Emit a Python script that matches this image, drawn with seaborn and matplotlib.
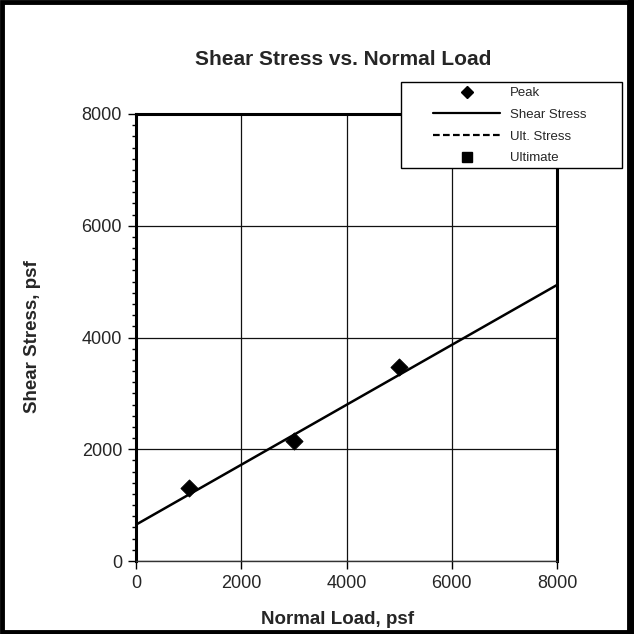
import matplotlib
matplotlib.use("Agg")
import matplotlib.pyplot as plt
import seaborn as sns
import pandas as pd
from matplotlib.ticker import MultipleLocator
from matplotlib.patches import Rectangle
from matplotlib.lines import Line2D

# Data
peak_load = [1000, 3000, 5000]
peak_stress = [1300, 2150, 3470]
fit_load = [0, 8000]
fit_stress = [650, 4940]
x_ticks = [0, 2000, 4000, 6000, 8000]
y_ticks = [0, 2000, 4000, 6000, 8000]
legend_labels = ["Peak", "Shear Stress", "Ult. Stress", "Ultimate"]

sns.set_style("white")
plt.rcParams['font.family'] = ['Liberation Sans', 'DejaVu Sans']

W = 634.0
fig = plt.figure(figsize=(6.34, 6.34), dpi=100)
ax = fig.add_axes([136/W, 73/W, 421/W, 447/W])

peak_df = pd.DataFrame({"load": peak_load, "stress": peak_stress})
fit_df = pd.DataFrame({"load": fit_load, "stress": fit_stress})

sns.lineplot(data=fit_df, x="load", y="stress", ax=ax, color="black", lw=1.8,
             zorder=3, legend=False)
sns.scatterplot(data=peak_df, x="load", y="stress", ax=ax, marker="D", s=75,
                color="black", edgecolor="black", zorder=4, legend=False)

ax.set_xlim(0, 8000)
ax.set_ylim(0, 8000)
ax.set_xticks(x_ticks)
ax.set_yticks(y_ticks)
ax.yaxis.set_minor_locator(MultipleLocator(200))
ax.tick_params(axis="both", which="major", direction="out", length=6, width=1,
               labelsize=13, color="black", left=True, bottom=True, pad=4)
ax.tick_params(axis="y", which="minor", direction="out", length=3, width=1,
               color="black", left=True)
ax.grid(True, which="major", color="#111111", lw=0.9)
for s in ["left", "right", "top"]:
    ax.spines[s].set_color("black")
    ax.spines[s].set_linewidth(2.2)
ax.spines["bottom"].set_color("#333333")
ax.spines["bottom"].set_linewidth(1)

ax.set_xlabel("Normal Load, psf", fontsize=13.5, fontweight="bold", va="center")
ax.xaxis.set_label_coords((338 - 136) / 421, (561 - 620) / 447)
ax.set_ylabel("Shear Stress, psf", fontsize=13.5, fontweight="bold", va="center")
ax.yaxis.set_label_coords((33 - 136) / 421, (561 - 337) / 447)
ax.set_title("Shear Stress vs. Normal Load", fontsize=15, fontweight="bold",
             x=(343 - 136) / 421, y=(561 - 65) / 447, va="baseline", pad=0)

handles = [
    Line2D([], [], ls="none", marker="D", color="black", ms=6.5),
    Line2D([], [], ls="-", color="black", lw=1.6),
    Line2D([], [], ls="--", color="black", lw=1.6, dashes=(3, 1.5)),
    Line2D([], [], ls="none", marker="s", color="black", ms=7.5),
]
# legend box (frame) drawn in figure coords
fig.patches.append(Rectangle((401/W, 1 - 168/W), 221/W, 86/W, transform=fig.transFigure,
                             facecolor="white", edgecolor="black", lw=1, zorder=4))
leg = fig.legend(handles, legend_labels, loc="upper left",
                 bbox_to_anchor=(433/W, 1 - 87/W), bbox_transform=fig.transFigure,
                 fontsize=9.5, frameon=False, handlelength=5.1, borderpad=0,
                 labelspacing=0.72, handletextpad=0.75, borderaxespad=0)
leg.set_zorder(6)

fig.patches.append(Rectangle((2/W, 2/W), 627/W, 630/W, transform=fig.transFigure,
                             fill=False, edgecolor="black", lw=3.5, zorder=7))
fig.patches.append(Rectangle((628/W, 0), 6/W, 1, transform=fig.transFigure,
                             facecolor="black", edgecolor="none", zorder=7))

fig.savefig("out.png", dpi=100)
